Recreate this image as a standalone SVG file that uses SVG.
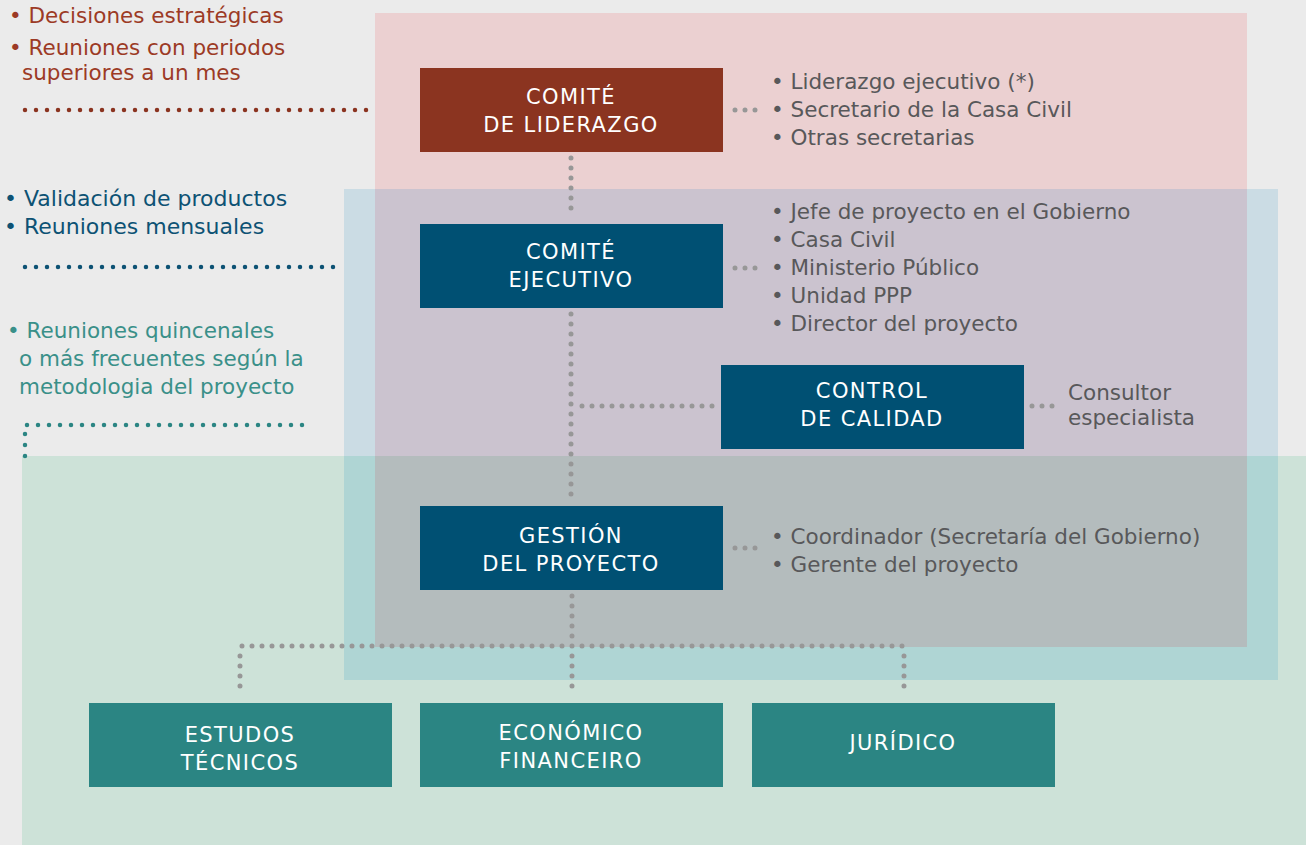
<svg xmlns="http://www.w3.org/2000/svg" width="1306" height="845" viewBox="0 0 1306 845">
<style>
text{font-family:"DejaVu Sans","Open Sans",sans-serif;font-size:21.5px}
.bx{font-size:21px;fill:#ffffff;text-anchor:middle;letter-spacing:1.4px}
.gr{fill:#58585a}
.red{fill:#9c3a25}
.blu{fill:#0d5274;font-size:22px}
.tea{fill:#3a9089}
.dg{fill:none;stroke:#979797;stroke-width:5;stroke-linecap:round;stroke-dasharray:0 10}
.dl{fill:none;stroke-width:4.5;stroke-linecap:round;stroke-dasharray:0 11}
</style>
<rect width="1306" height="845" fill="#ebebeb"/>
<g id="bands">
<rect x="375" y="13" width="872" height="176" fill="#ebd0d1"/>
<rect x="344" y="189" width="934" height="267" fill="#cbdce4"/>
<rect x="375" y="189" width="872" height="267" fill="#cbc3cf"/>
<rect x="22" y="456" width="1284" height="389" fill="#cde2d8"/>
<rect x="344" y="456" width="934" height="224" fill="#afd5d4"/>
<rect x="375" y="456" width="872" height="191" fill="#b4bcbd"/>
</g>
<g id="connectors">
<path class="dl" stroke="#8b3420" d="M25 110H370"/>
<path class="dl" stroke="#0d5274" d="M25 267H336"/>
<path class="dl" stroke="#2b8583" d="M25 456V425H304"/>
<path class="dg" d="M571 158V218"/>
<path class="dg" d="M571 314V500"/>
<path class="dg" d="M582 406H716"/>
<path class="dg" d="M735 110H760"/>
<path class="dg" d="M735 268H760"/>
<path class="dg" d="M1032 406H1060"/>
<path class="dg" d="M735 548H760"/>
<path class="dg" d="M572 596V646"/>
<path class="dg" d="M242 646H904"/>
<path class="dg" d="M240 656V696"/>
<path class="dg" d="M572 656V696"/>
<path class="dg" d="M904 656V696"/>
</g>
<g id="notes-left">
<text class="red"><tspan x="9" y="23">• Decisiones estratégicas</tspan><tspan x="9" y="55">• Reuniones con periodos</tspan><tspan x="22" y="80">superiores a un mes</tspan></text>
<text class="blu"><tspan x="4" y="206">• Validación de productos</tspan><tspan x="4" y="234">• Reuniones mensuales</tspan></text>
<text class="tea"><tspan x="7" y="338">• Reuniones quincenales</tspan><tspan x="19" y="366">o más frecuentes según la</tspan><tspan x="19" y="394">metodologia del proyecto</tspan></text>
</g>
<g id="comite-liderazgo">
<rect x="420" y="68" width="303" height="84" fill="#8b3420"/>
<text class="bx"><tspan x="571" y="104">COMITÉ</tspan><tspan x="571" y="132">DE LIDERAZGO</tspan></text>
<text class="gr"><tspan x="771" y="89">• Liderazgo ejecutivo (*)</tspan><tspan x="771" y="117">• Secretario de la Casa Civil</tspan><tspan x="771" y="145">• Otras secretarias</tspan></text>
</g>
<g id="comite-ejecutivo">
<rect x="420" y="224" width="303" height="84" fill="#005073"/>
<text class="bx"><tspan x="571" y="259">COMITÉ</tspan><tspan x="571" y="287">EJECUTIVO</tspan></text>
<text class="gr"><tspan x="771" y="219">• Jefe de proyecto en el Gobierno</tspan><tspan x="771" y="247">• Casa Civil</tspan><tspan x="771" y="275">• Ministerio Público</tspan><tspan x="771" y="303">• Unidad PPP</tspan><tspan x="771" y="331">• Director del proyecto</tspan></text>
</g>
<g id="control-calidad">
<rect x="721" y="365" width="303" height="84" fill="#005073"/>
<text class="bx"><tspan x="872" y="398">CONTROL</tspan><tspan x="872" y="426">DE CALIDAD</tspan></text>
<text class="gr"><tspan x="1068" y="400">Consultor</tspan><tspan x="1068" y="425">especialista</tspan></text>
</g>
<g id="gestion-proyecto">
<rect x="420" y="506" width="303" height="84" fill="#005073"/>
<text class="bx"><tspan x="571" y="543">GESTIÓN</tspan><tspan x="571" y="571">DEL PROYECTO</tspan></text>
<text class="gr"><tspan x="771" y="544">• Coordinador (Secretaría del Gobierno)</tspan><tspan x="771" y="572">• Gerente del proyecto</tspan></text>
</g>
<g id="estudos-tecnicos">
<rect x="89" y="703" width="303" height="84" fill="#2b8583"/>
<text class="bx"><tspan x="240" y="742">ESTUDOS</tspan><tspan x="240" y="770">TÉCNICOS</tspan></text>
</g>
<g id="economico-financeiro">
<rect x="420" y="703" width="303" height="84" fill="#2b8583"/>
<text class="bx"><tspan x="571" y="740">ECONÓMICO</tspan><tspan x="571" y="768">FINANCEIRO</tspan></text>
</g>
<g id="juridico">
<rect x="752" y="703" width="303" height="84" fill="#2b8583"/>
<text class="bx"><tspan x="903" y="750">JURÍDICO</tspan></text>
</g>
</svg>
